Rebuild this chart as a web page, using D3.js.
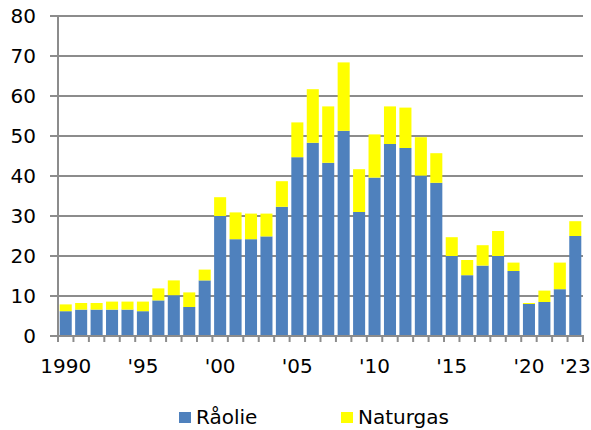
<!DOCTYPE html>
<html><head><meta charset="utf-8">
<script src="https://cdn.jsdelivr.net/npm/d3@7"></script>
<style>body{margin:0;background:#fff}svg{display:block}</style>
</head><body>
<svg id="c" width="591" height="430"></svg>
<script>
const years = d3.range(1990, 2024);
const yearLabels = {1990:"1990",1995:"'95",2000:"'00",2005:"'05",2010:"'10",2015:"'15",2020:"'20",2023:"'23"};
const raaolie = [6.2,6.6,6.6,6.6,6.6,6.2,8.9,10.2,7.25,13.9,30.0,24.2,24.2,24.9,32.3,44.7,48.3,43.3,51.3,31.0,39.6,48.0,47.0,40.1,38.3,20.0,15.2,17.6,20.0,16.25,8.0,8.5,11.7,25.0];
const naturgas = [1.7,1.65,1.65,2.0,2.0,2.4,3.0,3.7,3.65,2.7,4.7,6.7,6.4,5.7,6.4,8.7,13.4,14.1,17.1,10.7,10.8,9.4,10.1,9.6,7.4,4.7,3.8,5.1,6.25,2.1,0.25,2.85,6.65,3.7];
const yTicks = [0,10,20,30,40,50,60,70,80];
const seriesNames = ["Råolie","Naturgas"];
const colors = ["#4F81BD","#FFFF00"];

const svg = d3.select("#c");
const font = "DejaVu Sans, Verdana, sans-serif";
const x = d3.scaleBand().domain(years).range([58,583]).paddingInner(0.22).paddingOuter(0.11);
const y = d3.scaleLinear().domain([0,80]).range([336,16]);

// gridlines
svg.append("g").selectAll("line").data(yTicks).join("line")
  .attr("x1",50).attr("x2",583).attr("y1",d=>y(d)).attr("y2",d=>y(d))
  .attr("stroke","#8c8c8c").attr("stroke-width",2);
// y labels
svg.append("g").selectAll("text").data(yTicks).join("text")
  .attr("x",36).attr("y",d=>y(d)+7).attr("text-anchor","end")
  .attr("font-family",font).attr("font-size",20).attr("fill","#000").text(d=>d);

const data = years.map((yr,i)=>({yr, a:raaolie[i], b:naturgas[i]}));
const stack = d3.stack().keys(["a","b"])(data);
svg.append("g").selectAll("g").data(stack).join("g").attr("fill",(d,i)=>colors[i])
  .selectAll("rect").data(d=>d).join("rect")
  .attr("x",d=>x(d.data.yr)).attr("width",x.bandwidth())
  .attr("y",d=>y(d[1])).attr("height",d=>y(d[0])-y(d[1]));

// axes lines
svg.append("line").attr("x1",58).attr("x2",58).attr("y1",16).attr("y2",337).attr("stroke","#8c8c8c").attr("stroke-width",2);
svg.append("line").attr("x1",50).attr("x2",584).attr("y1",336).attr("y2",336).attr("stroke","#8c8c8c").attr("stroke-width",2);
// x ticks at band boundaries
const bounds = d3.range(0, years.length+1).map(i=>58 + i*(525/years.length));
svg.append("g").selectAll("line").data(bounds).join("line")
  .attr("x1",d=>d).attr("x2",d=>d).attr("y1",336).attr("y2",342)
  .attr("stroke","#8c8c8c").attr("stroke-width",2);
// x labels
svg.append("g").selectAll("text").data(years.filter(d=>yearLabels[d])).join("text")
  .attr("x",d=>x(d)+x.bandwidth()/2).attr("y",373).attr("text-anchor","middle")
  .attr("font-family",font).attr("font-size",20).attr("fill","#000").text(d=>yearLabels[d]);

// legend
const leg = [{x:179,tx:196},{x:341,tx:358}];
leg.forEach((l,i)=>{
  svg.append("rect").attr("x",l.x).attr("y",412).attr("width",12).attr("height",11).attr("fill",colors[i]);
  svg.append("text").attr("x",l.tx).attr("y",424).attr("font-family",font).attr("font-size",20).attr("fill","#000").text(seriesNames[i]);
});
</script>
</body></html>
